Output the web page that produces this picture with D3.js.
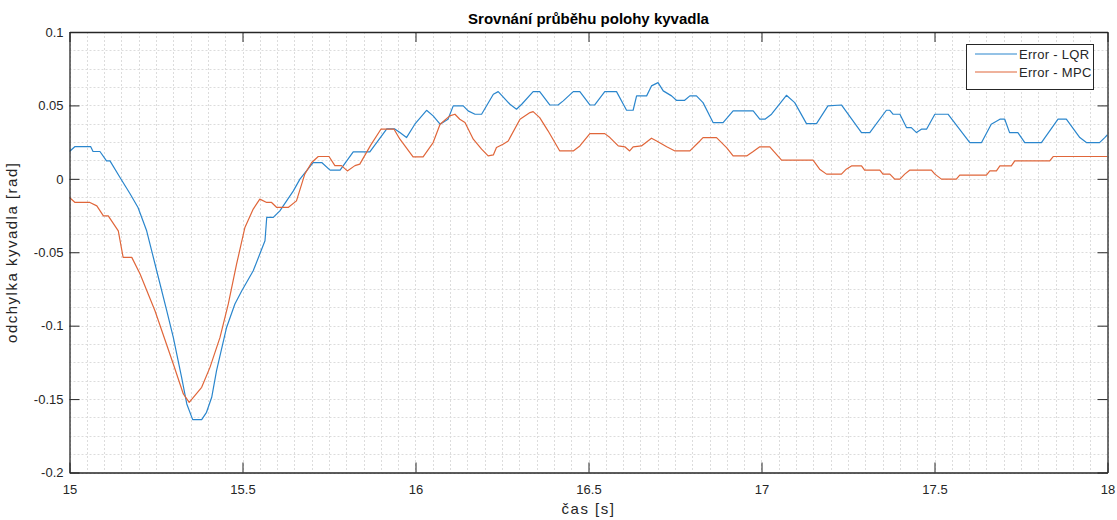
<!DOCTYPE html>
<html>
<head>
<meta charset="utf-8">
<script src="https://cdn.jsdelivr.net/npm/d3@7"></script>
<style>
  html, body { margin: 0; padding: 0; background: #ffffff; }
  svg { display: block; font-family: "Liberation Sans", Arial, Helvetica, sans-serif; }
</style>
</head>
<body>
<svg id="chart" width="1117" height="520"></svg>
<script>
// ---------- data ----------
const titleText = "Srovnání průběhu polohy kyvadla";
const xLabelText = "čas [s]";
const yLabelText = "odchylka kyvadla [rad]";
const seriesNames = ["Error - LQR", "Error - MPC"];
const seriesColors = ["#2a86cd", "#e0663a"];

const xTicks = [15, 15.5, 16, 16.5, 17, 17.5, 18];
const xTickLabels = ["15", "15.5", "16", "16.5", "17", "17.5", "18"];
const yTicks = [-0.2, -0.15, -0.1, -0.05, 0, 0.05, 0.1];
const yTickLabels = ["-0.2", "-0.15", "-0.1", "-0.05", "0", "0.05", "0.1"];

const lqrTime = [15.000,15.016,15.061,15.068,15.088,15.107,15.117,15.146,15.175,15.198,15.223,15.252,15.281,15.300,15.324,15.339,15.356,15.382,15.396,15.411,15.425,15.454,15.478,15.498,15.531,15.550,15.565,15.570,15.589,15.608,15.647,15.666,15.704,15.729,15.753,15.782,15.820,15.868,15.917,15.940,15.955,15.974,15.998,16.032,16.051,16.071,16.094,16.109,16.138,16.152,16.172,16.191,16.225,16.239,16.273,16.292,16.307,16.340,16.359,16.388,16.412,16.427,16.456,16.475,16.504,16.518,16.547,16.581,16.610,16.629,16.639,16.668,16.682,16.701,16.716,16.740,16.754,16.778,16.793,16.812,16.831,16.860,16.889,16.918,16.976,16.995,17.010,17.029,17.072,17.096,17.130,17.159,17.192,17.231,17.289,17.313,17.361,17.371,17.380,17.400,17.419,17.433,17.448,17.462,17.477,17.501,17.539,17.602,17.636,17.664,17.689,17.703,17.717,17.741,17.761,17.809,17.857,17.881,17.920,17.939,17.977,17.992,18.000];
const lqrValue = [0.0186,0.0220,0.0220,0.0186,0.0186,0.0122,0.0122,0.0009,-0.0102,-0.0195,-0.0354,-0.0626,-0.0898,-0.1080,-0.1352,-0.1533,-0.1640,-0.1640,-0.1590,-0.1488,-0.1306,-0.1012,-0.0852,-0.0762,-0.0626,-0.0512,-0.0422,-0.0263,-0.0263,-0.0218,-0.0082,-0.0002,0.0111,0.0111,0.0059,0.0059,0.0184,0.0184,0.0340,0.0340,0.0315,0.0281,0.0372,0.0467,0.0429,0.0372,0.0406,0.0497,0.0497,0.0463,0.0440,0.0440,0.0576,0.0594,0.0508,0.0474,0.0508,0.0594,0.0594,0.0503,0.0503,0.0531,0.0594,0.0594,0.0503,0.0503,0.0594,0.0594,0.0467,0.0467,0.0565,0.0565,0.0633,0.0655,0.0599,0.0565,0.0535,0.0535,0.0565,0.0565,0.0519,0.0383,0.0383,0.0463,0.0463,0.0406,0.0406,0.0440,0.0569,0.0519,0.0376,0.0376,0.0497,0.0503,0.0315,0.0315,0.0467,0.0467,0.0440,0.0440,0.0349,0.0349,0.0315,0.0338,0.0338,0.0440,0.0440,0.0247,0.0247,0.0372,0.0406,0.0406,0.0315,0.0315,0.0247,0.0247,0.0406,0.0406,0.0281,0.0247,0.0247,0.0281,0.0300];

const mpcTime = [15.000,15.016,15.059,15.079,15.098,15.112,15.141,15.155,15.180,15.204,15.247,15.300,15.329,15.346,15.382,15.406,15.435,15.459,15.483,15.507,15.531,15.550,15.570,15.584,15.599,15.632,15.656,15.680,15.700,15.719,15.750,15.767,15.786,15.803,15.825,15.839,15.871,15.900,15.938,15.955,15.993,16.022,16.051,16.071,16.099,16.114,16.128,16.143,16.167,16.191,16.210,16.225,16.234,16.253,16.268,16.302,16.331,16.340,16.359,16.383,16.417,16.456,16.475,16.504,16.547,16.562,16.586,16.605,16.619,16.629,16.653,16.682,16.697,16.726,16.750,16.793,16.822,16.831,16.870,16.899,16.918,16.957,16.976,16.995,17.024,17.058,17.149,17.168,17.188,17.231,17.245,17.260,17.289,17.298,17.342,17.351,17.371,17.385,17.400,17.414,17.428,17.491,17.501,17.520,17.563,17.573,17.650,17.660,17.679,17.689,17.722,17.732,17.833,17.843,17.992,18.000];
const mpcValue = [-0.0127,-0.0161,-0.0161,-0.0184,-0.0252,-0.0252,-0.0354,-0.0535,-0.0535,-0.0648,-0.0898,-0.1261,-0.1465,-0.1522,-0.1420,-0.1284,-0.1080,-0.0852,-0.0580,-0.0331,-0.0206,-0.0138,-0.0161,-0.0161,-0.0195,-0.0195,-0.0150,0.0032,0.0111,0.0152,0.0152,0.0090,0.0090,0.0054,0.0090,0.0100,0.0231,0.0338,0.0338,0.0270,0.0150,0.0150,0.0247,0.0372,0.0429,0.0440,0.0406,0.0383,0.0270,0.0202,0.0156,0.0163,0.0213,0.0236,0.0258,0.0406,0.0451,0.0458,0.0417,0.0327,0.0190,0.0190,0.0224,0.0308,0.0308,0.0281,0.0224,0.0218,0.0190,0.0218,0.0224,0.0277,0.0258,0.0218,0.0190,0.0190,0.0258,0.0281,0.0281,0.0213,0.0156,0.0156,0.0186,0.0218,0.0218,0.0127,0.0127,0.0066,0.0032,0.0032,0.0066,0.0088,0.0088,0.0059,0.0059,0.0032,0.0032,-0.0002,-0.0002,0.0032,0.0059,0.0059,0.0032,-0.0002,-0.0002,0.0025,0.0025,0.0054,0.0054,0.0088,0.0088,0.0122,0.0122,0.0152,0.0152,0.0152];

// ---------- layout ----------
const svg = d3.select("#chart");
const L = 69.5, R = 1107.5, T = 32, B = 472.5;
const x = d3.scaleLinear().domain([15, 18]).range([L, R]);
const y = d3.scaleLinear().domain([-0.2, 0.1]).range([B, T]);
const textColor = "#262626";

// grid (minor + major, dotted)
const g = svg.append("g");
const xMinor = d3.range(0, 61).map(i => 15 + i * 0.05);
const yMinor = d3.range(0, 25).map(i => -0.2 + i * 0.0125);
g.selectAll(".vx").data(xMinor).enter().append("line")
  .attr("x1", d => Math.round(x(d)) + 0.5).attr("x2", d => Math.round(x(d)) + 0.5)
  .attr("y1", T).attr("y2", B)
  .attr("stroke", "#dcdcdc").attr("stroke-width", 1).attr("stroke-dasharray", "2,2");
g.selectAll(".hy").data(yMinor).enter().append("line")
  .attr("y1", d => Math.round(y(d)) + 0.5).attr("y2", d => Math.round(y(d)) + 0.5)
  .attr("x1", L).attr("x2", R)
  .attr("stroke", "#dcdcdc").attr("stroke-width", 1).attr("stroke-dasharray", "2,2");

// lines
const series = [
  lqrTime.map((t, i) => [t, lqrValue[i]]),
  mpcTime.map((t, i) => [t, mpcValue[i]])
];
const line = d3.line().x(d => x(d[0])).y(d => y(d[1]));
svg.append("clipPath").attr("id", "clip").append("rect")
  .attr("x", L).attr("y", T).attr("width", R - L).attr("height", B - T);
svg.append("g").attr("clip-path", "url(#clip)")
  .selectAll("path").data(series).enter().append("path")
  .attr("d", line).attr("fill", "none")
  .attr("stroke", (d, i) => seriesColors[i]).attr("stroke-width", 1.2)
  .attr("stroke-linejoin", "round");

// axes (box with inward ticks)
const tickLen = 10;
const axB = svg.append("g").attr("transform", `translate(0,${B})`)
  .call(d3.axisBottom(x).tickValues(xTicks).tickSizeInner(-tickLen).tickSizeOuter(0)
        .tickPadding(12).tickFormat((d, i) => xTickLabels[i]));
const axT = svg.append("g").attr("transform", `translate(0,${T})`)
  .call(d3.axisTop(x).tickValues(xTicks).tickSizeInner(-tickLen).tickSizeOuter(0).tickFormat(""));
const axL = svg.append("g").attr("transform", `translate(${L},0)`)
  .call(d3.axisLeft(y).tickValues(yTicks).tickSizeInner(-tickLen).tickSizeOuter(0)
        .tickPadding(6).tickFormat((d, i) => yTickLabels[i]));
const axR = svg.append("g").attr("transform", `translate(${R},0)`)
  .call(d3.axisRight(y).tickValues(yTicks).tickSizeInner(-tickLen).tickSizeOuter(0).tickFormat(""));
[axB, axT, axL, axR].forEach(a => {
  a.select(".domain").attr("stroke", textColor).attr("stroke-width", 1.3);
  a.selectAll(".tick line").attr("stroke", textColor).attr("stroke-width", 1);
  a.selectAll("text").attr("fill", textColor).style("font-size", "13px")
    .style("font-family", "'Liberation Sans', Arial, sans-serif");
});

// title & labels
svg.append("text").attr("x", (L + R) / 2).attr("y", 24).attr("text-anchor", "middle")
  .attr("fill", "#000").style("font-size", "15px").style("font-weight", "bold")
  .text(titleText);
svg.append("text").attr("x", (L + R) / 2).attr("y", 514).attr("text-anchor", "middle")
  .attr("fill", textColor).style("font-size", "15px").style("letter-spacing", "1.5px").text(xLabelText);
svg.append("text").attr("transform", `translate(17,${(T + B) / 2}) rotate(-90)`)
  .attr("text-anchor", "middle").attr("fill", textColor).style("font-size", "15px")
  .style("letter-spacing", "1.5px").text(yLabelText);

// legend
const lg = svg.append("g");
lg.append("rect").attr("x", 966.5).attr("y", 44.5).attr("width", 127).attr("height", 45)
  .attr("fill", "#fff").attr("stroke", textColor).attr("stroke-width", 1);
seriesNames.forEach((name, i) => {
  const cy = 54 + i * 18;
  lg.append("line").attr("x1", 975).attr("x2", 1017).attr("y1", cy).attr("y2", cy)
    .attr("stroke", seriesColors[i]).attr("stroke-width", 1.2);
  lg.append("text").attr("x", 1019).attr("y", cy + 4.5).attr("fill", textColor)
    .style("font-size", "13px").style("letter-spacing", "0.3px").text(name);
});
</script>
</body>
</html>
